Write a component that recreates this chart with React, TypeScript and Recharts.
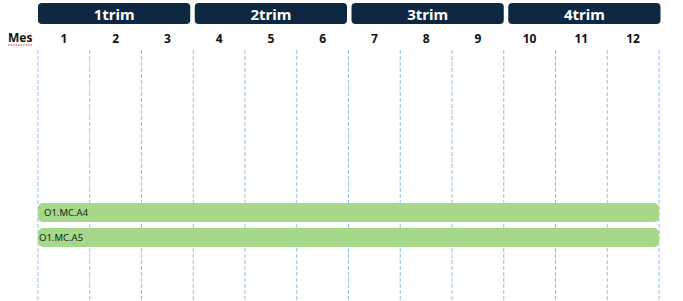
import { useEffect } from "react";
import {
  BarChart,
  Bar,
  XAxis,
  YAxis,
  CartesianGrid,
  LabelList,
  Label,
} from "recharts";

// months shown on top, trimesters group 3 months each
const months = ["1", "2", "3", "4", "5", "6", "7", "8", "9", "10", "11", "12"];
const trimesters = ["1trim", "2trim", "3trim", "4trim"];

const tasks = ["O1.MC.A4", "O1.MC.A5"];
const taskStart = [0, 0];
const taskEnd = [12, 12];

const data = tasks.map((task, i) => ({
  task,
  span: [taskStart[i], taskEnd[i]],
}));

// month boundaries 0..12 (grid lines)
const monthBounds = Array.from({ length: months.length + 1 }, (_, i) => i);

const FONT = "'Noto Sans', 'Open Sans', sans-serif";
const NAVY = "#0e2841";
const GREEN = "#a6d88c";
const labelInset = [6, 1];

function TopTick(props: any) {
  const { x, y, payload, width } = props;
  const i = payload.value;
  if (i >= months.length) return null;
  const band = width / months.length;
  const trimW = band * 3 - 3;
  const t = i / 3;
  // header boxes drift slightly wider than the month grid in the original
  const bx = x + t * 1.5;
  return (
    <g>
      {i % 3 === 0 && (
        <g>
          <rect x={bx} y={y - 47} width={trimW} height={21} rx={4} fill={NAVY} />
          <text
            x={bx + trimW / 2}
            y={y - 36}
            textAnchor="middle"
            dominantBaseline="central"
            fill="#fff"
            fontFamily={FONT}
            fontWeight={700}
            fontSize={15}
          >
            {trimesters[t]}
          </text>
        </g>
      )}
      <text
        x={x + band / 2}
        y={y - 12}
        textAnchor="middle"
        dominantBaseline="central"
        fill="#111"
        fontFamily={FONT}
        fontWeight={700}
        fontSize={12}
      >
        {months[i]}
      </text>
    </g>
  );
}

function MesLabel(props: any) {
  const { viewBox } = props;
  const cy = viewBox.y + viewBox.height - 13;
  return (
    <g>
      <text
        x={8}
        y={cy}
        dominantBaseline="central"
        fill="#111"
        fontFamily={FONT}
        fontWeight={700}
        fontSize={12}
      >
        Mes
      </text>
      <line
        x1={8}
        x2={33}
        y1={cy + 8}
        y2={cy + 8}
        stroke="#e0303a"
        strokeWidth={1}
        strokeDasharray="1.5 1"
      />
    </g>
  );
}

function TaskLabel(props: any) {
  const { x, y, height, value, index } = props;
  return (
    <text
      x={x + labelInset[index]}
      y={y + height / 2}
      dominantBaseline="central"
      fill="#1a1a1a"
      fontFamily={FONT}
      fontSize={9.5}
    >
      {value}
    </text>
  );
}

export default function App() {
  useEffect(() => {
    document.body.style.margin = "0";
  }, []);

  return (
    <div style={{ width: 683, height: 301, background: "#fff" }}>
      <BarChart
        width={683}
        height={301}
        data={data}
        layout="vertical"
        margin={{ top: 0, right: 24, left: 38, bottom: 0 }}
        barSize={19}
      >
        <CartesianGrid
          horizontal={false}
          stroke="#94bdee"
          strokeDasharray="4 2"
        />
        <XAxis
          type="number"
          orientation="top"
          domain={[0, 12]}
          ticks={monthBounds}
          tick={<TopTick />}
          tickLine={false}
          axisLine={false}
          tickSize={0}
          tickMargin={0}
          height={50}
          interval={0}
        >
          <Label content={<MesLabel />} />
        </XAxis>
        <YAxis
          type="category"
          dataKey="task"
          hide
          padding={{ top: 150, bottom: 51 }}
        />
        <Bar dataKey="span" fill={GREEN} radius={5} isAnimationActive={false}>
          <LabelList dataKey="task" content={<TaskLabel />} />
        </Bar>
      </BarChart>
    </div>
  );
}
